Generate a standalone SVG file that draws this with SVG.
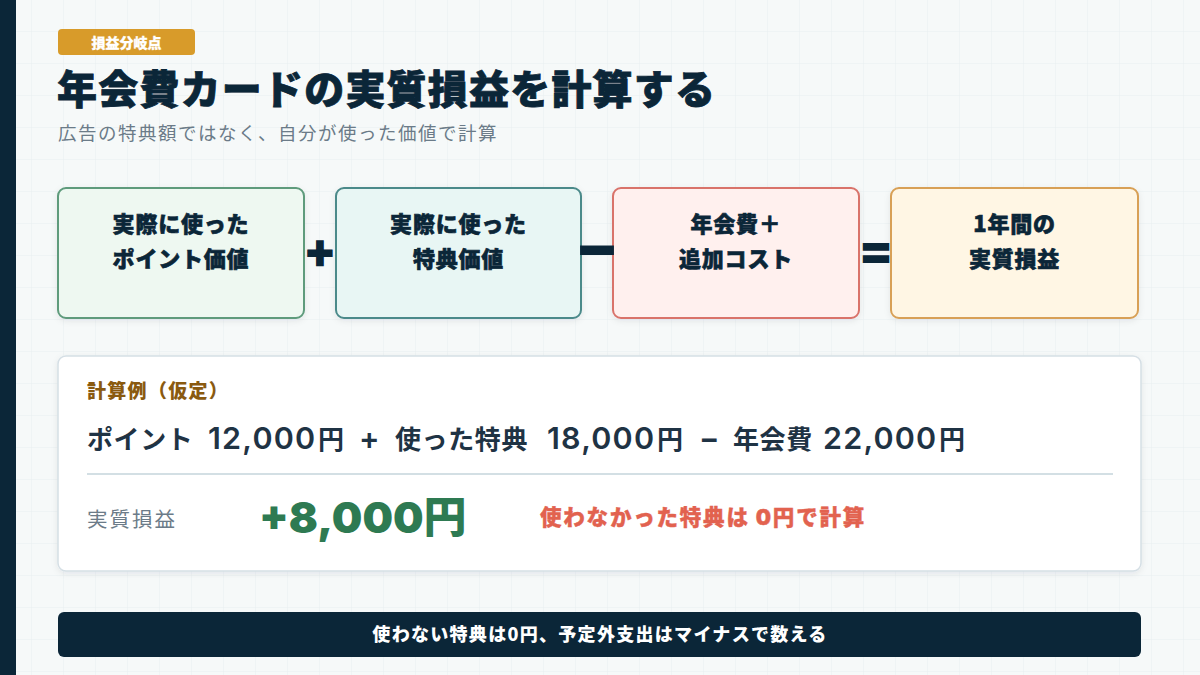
<svg xmlns="http://www.w3.org/2000/svg" width="1200" height="675" viewBox="0 0 1200 675">
<defs>
<pattern id="grid" width="32" height="32" patternUnits="userSpaceOnUse">
<path d="M32 0V32M0 32H32" fill="none" stroke="#e9eff1" stroke-width="1"/>
</pattern>
<filter id="sh" x="-5%" y="-5%" width="110%" height="120%">
<feDropShadow dx="0" dy="2" stdDeviation="3" flood-color="#0b2638" flood-opacity="0.08"/>
</filter>
<style>
.jp{font-family:"Noto Sans CJK JP","Noto Sans",sans-serif}
.num{font-family:Inter,"Noto Sans CJK JP",sans-serif}
.node{stroke-width:2}
.nt{font-family:"Noto Sans CJK JP",sans-serif;font-weight:900;font-size:22px;fill:#0b2638;stroke:#0b2638;stroke-width:0.6px;text-anchor:middle;letter-spacing:0.8px}
.op{font-family:"Noto Sans CJK JP",sans-serif;font-weight:900;fill:#0b2638;stroke:#0b2638;stroke-width:2px;text-anchor:middle}
.d{font-family:Inter,"Noto Sans CJK JP",sans-serif;font-size:30.5px;font-weight:600;letter-spacing:1.2px}
</style>
</defs>
<rect width="1200" height="675" fill="#f6f9f9"/>
<rect width="1200" height="675" fill="url(#grid)"/>
<rect x="0" y="0" width="16" height="675" fill="#0b2638"/>

<g id="header">
<rect x="58" y="29" width="137" height="26" rx="4" fill="#d89b2a"/>
<text x="126.5" y="47.5" class="jp" font-size="14" font-weight="900" fill="#ffffff" text-anchor="middle" stroke="#ffffff" stroke-width="0.3">損益分岐点</text>
<text x="57" y="104" class="jp" font-size="40" font-weight="900" fill="#0b2638" stroke="#0b2638" stroke-width="0.8" letter-spacing="1.2">年会費カードの実質損益を計算する</text>
<text x="58" y="140" class="jp" font-size="18.5" fill="#6b7b88" letter-spacing="1.5">広告の特典額ではなく、自分が使った価値で計算</text>
</g>

<g id="node-points">
<rect class="node" x="58" y="188" width="246" height="130" rx="8" fill="#eef8f1" stroke="#5e9b7c" filter="url(#sh)"/>
<text class="nt" x="181" y="232">実際に使った</text>
<text class="nt" x="181" y="267">ポイント価値</text>
</g>
<g id="node-benefits">
<rect class="node" x="336" y="188" width="245" height="130" rx="8" fill="#e8f6f4" stroke="#4b8a8a" filter="url(#sh)"/>
<text class="nt" x="458.5" y="232">実際に使った</text>
<text class="nt" x="458.5" y="267">特典価値</text>
</g>
<g id="node-cost">
<rect class="node" x="613" y="188" width="246" height="130" rx="8" fill="#fff0ee" stroke="#d9736b" filter="url(#sh)"/>
<text class="nt" x="736" y="232">年会費＋</text>
<text class="nt" x="736" y="267">追加コスト</text>
</g>
<g id="node-result">
<rect class="node" x="891" y="188" width="247" height="130" rx="8" fill="#fff6e4" stroke="#d8a056" filter="url(#sh)"/>
<text class="nt" x="1014.5" y="232">1年間の</text>
<text class="nt" x="1014.5" y="267">実質損益</text>
</g>

<g id="connectors">
<text class="op" x="320" y="270" font-size="44">+</text>
<text class="op" x="597" y="273" font-size="60">−</text>
<text class="op" x="876" y="270" font-size="46">=</text>
</g>

<g id="calc-panel">
<rect x="58" y="356" width="1083" height="215" rx="8" fill="#ffffff" stroke="#d5dfe5" stroke-width="1.5" filter="url(#sh)"/>
<text x="87" y="398" class="jp" font-size="19" font-weight="900" fill="#8a5a10" letter-spacing="1.3">計算例（仮定）</text>
<text y="449" class="jp" font-size="26" font-weight="700" fill="#1f3344" letter-spacing="0.6"><tspan x="87">ポイント </tspan><tspan x="208" class="d">12,000</tspan><tspan x="318">円 </tspan><tspan x="359" class="d">+ </tspan><tspan x="395">使った特典 </tspan><tspan x="547" class="d">18,000</tspan><tspan x="657">円 </tspan><tspan x="699" class="d">− </tspan><tspan x="733">年会費 </tspan><tspan x="823" class="d">22,000</tspan><tspan x="939">円</tspan></text>
<line x1="87" y1="474" x2="1113" y2="474" stroke="#d3dfe4" stroke-width="2"/>
<text x="87" y="527" class="jp" font-size="20.5" fill="#6b7b88" letter-spacing="2">実質損益</text>
<text x="259" y="533" class="num" font-size="43" font-weight="900" fill="#2e7a52">+8,000円</text>
<text x="540" y="525" class="num" font-size="21.5" font-weight="900" fill="#e2624f" stroke="#e2624f" stroke-width="0.4" letter-spacing="1.8">使わなかった特典は 0円で計算</text>
</g>

<g id="footer">
<rect x="58" y="612" width="1083" height="45" rx="6" fill="#0b2638"/>
<text x="600" y="641" class="jp" font-size="18" font-weight="900" fill="#ffffff" text-anchor="middle" letter-spacing="1.3">使わない特典は0円、予定外支出はマイナスで数える</text>
</g>
</svg>
